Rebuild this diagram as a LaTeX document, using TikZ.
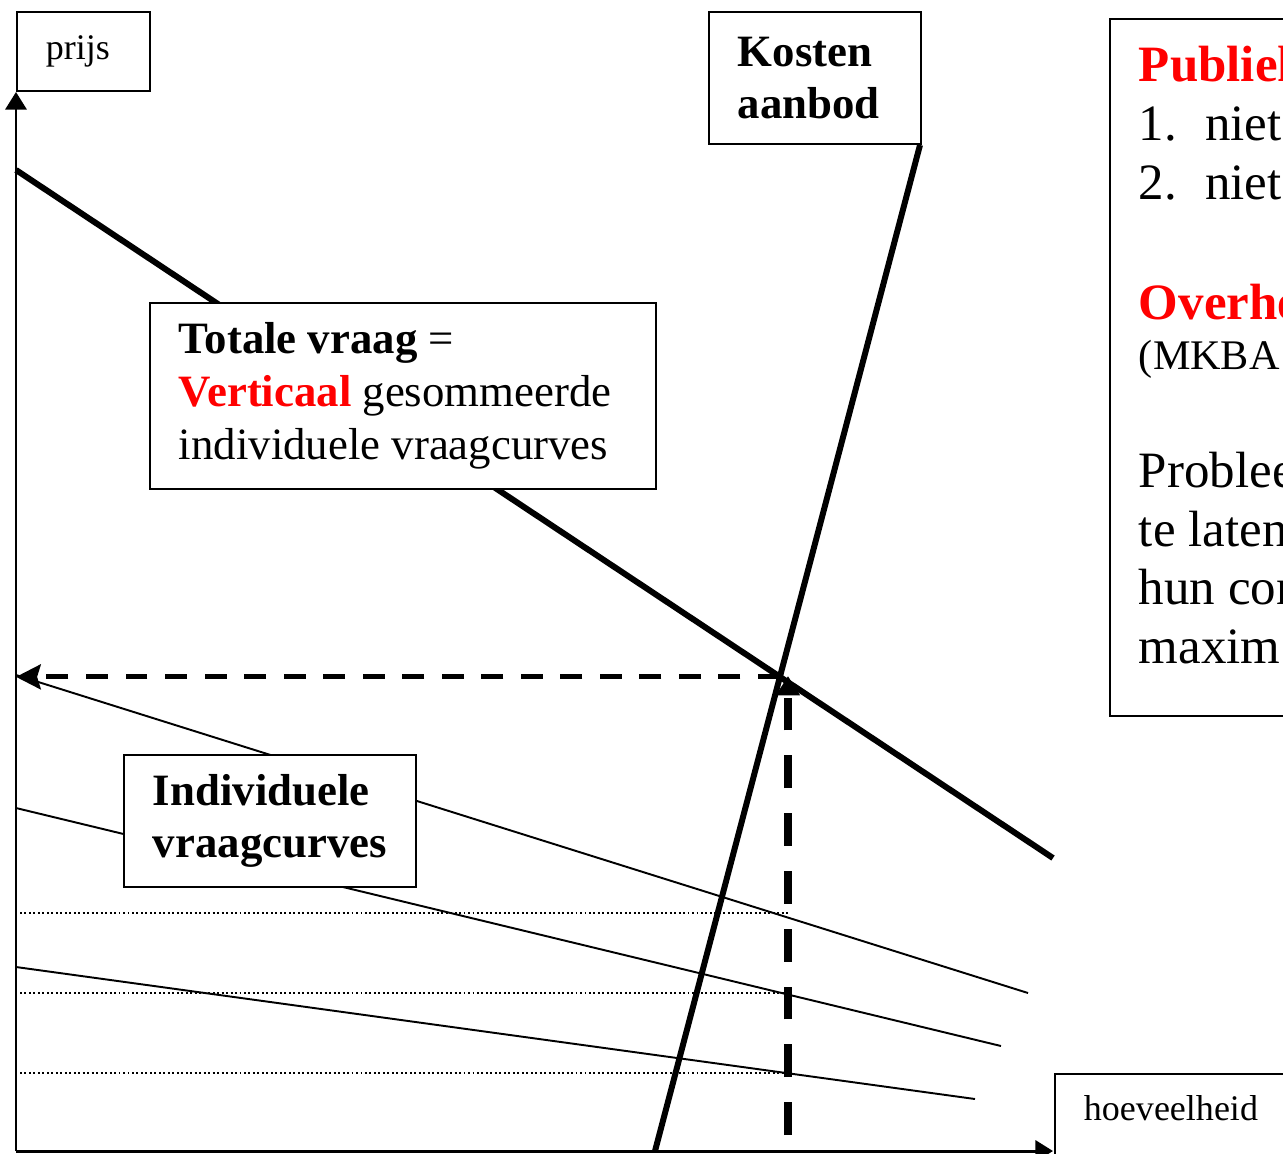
\documentclass[tikz,border=0pt]{standalone}
\usepackage{fontspec}
\setmainfont{Liberation Serif}
\usetikzlibrary{arrows.meta}

\newcommand{\axisfs}{\fontsize{20.5}{24}\selectfont}
\newcommand{\boxfs}{\fontsize{25.5}{30}\selectfont}
\newcommand{\infofs}{\fontsize{29}{33.5}\selectfont}

\tikzset{
  labelbox/.style={draw, line width=1.1pt, fill=white, align=left,
    inner xsep=0.58cm, inner ysep=0pt, anchor=north west,
    execute at begin node={\spaceskip=0pt\xspaceskip=0pt}},
  axisline/.style={line width=1.7pt, -{Triangle[length=10pt,width=12pt]}},
  bigcurve/.style={line width=3.4pt},
  smallcurve/.style={line width=1.1pt},
  dotline/.style={line width=1.1pt, dash pattern=on 1.1pt off 1.45pt},
}

\begin{document}
\begin{tikzpicture}[x=0.02cm, y=-0.02cm]
  \useasboundingbox (0,0) rectangle (1283,1153);
  \clip (0,0) rectangle (1283,1153);

  % axes and curve end points
  \coordinate (O) at (16,1151);
  \coordinate (ytip) at (16,92);
  \coordinate (xtip) at (1053,1151);
  \coordinate (dA) at (16,170);
  \coordinate (dB) at (1053,858);
  \coordinate (sA) at (920,145);
  \coordinate (sB) at (655,1151);
  \coordinate (E) at (intersection of dA--dB and sA--sB);
  \coordinate (vtop) at (788,676);
  \coordinate (vbase) at (788,1135);

  % price levels of the individual curves
  \foreach \h in {913,993,1073}
    \draw[dotline] (20,\h) -- (790,\h);

  % individual demand curves
  \draw[smallcurve] (16,675) -- (1028,993);
  \draw[smallcurve] (16,808) -- (1001,1046);
  \draw[smallcurve] (16,967) -- (975,1099);

  % total demand and supply
  \draw[bigcurve] (dA) -- (dB);
  \draw[bigcurve] (sA) -- (sB);

  % equilibrium
  \draw[line width=2.8pt, dash pattern=on 12.5pt off 10pt,
    -{Stealth[length=14pt,width=14pt,inset=2pt]}] (E) -- (dA |- E);
  \draw[line width=4.5pt, dash pattern=on 18.7pt off 14.2pt,
    -{Triangle[length=11pt,width=13pt]}] (vbase) -- (vtop);

  \draw[axisline] (O) -- (ytip);
  \draw[axisline] (O) -- (xtip);

  % labels
  \node[labelbox, text width=1.5cm, minimum height=1.58cm, font=\axisfs]
    (prijs) at (16,11) {prijs};
  \node[labelbox, inner ysep=0.44cm, text height=0.5cm, text depth=0.4cm, font=\axisfs]
    (hoev) at (1054,1073) {hoeveelheid};
  \node[labelbox, text width=3.08cm, minimum height=2.64cm, font=\boxfs\bfseries]
    (kosten) at (708,11) {Kosten\\aanbod};
  \node[labelbox, text width=8.96cm, minimum height=3.72cm, font=\boxfs]
    (totaal) at (149,302) {\textbf{Totale vraag} =\\
      \textcolor{red}{\textbf{Verticaal}} gesommeerde\\
      individuele vraagcurves};
  \node[labelbox, text width=4.68cm, minimum height=2.64cm, font=\boxfs\bfseries]
    (indiv) at (123,754) {Individuele\\vraagcurves};
  \node[labelbox, text width=6.84cm, minimum height=13.94cm, font=\infofs]
    (info) at (1109,18) {\textcolor{red}{\textbf{Publiek}}\\
      1.\hspace{16pt}niet\\
      2.\hspace{16pt}niet\\[35pt]
      \textcolor{red}{\textbf{Overheid}}\\[-5.2pt]
      {\fontsize{24}{28}\selectfont(MKBA}\\[33.4pt]
      Probleem\\
      te laten\\
      hun con\\
      maxim\rule[-14pt]{0pt}{0pt}};
\end{tikzpicture}
\end{document}
